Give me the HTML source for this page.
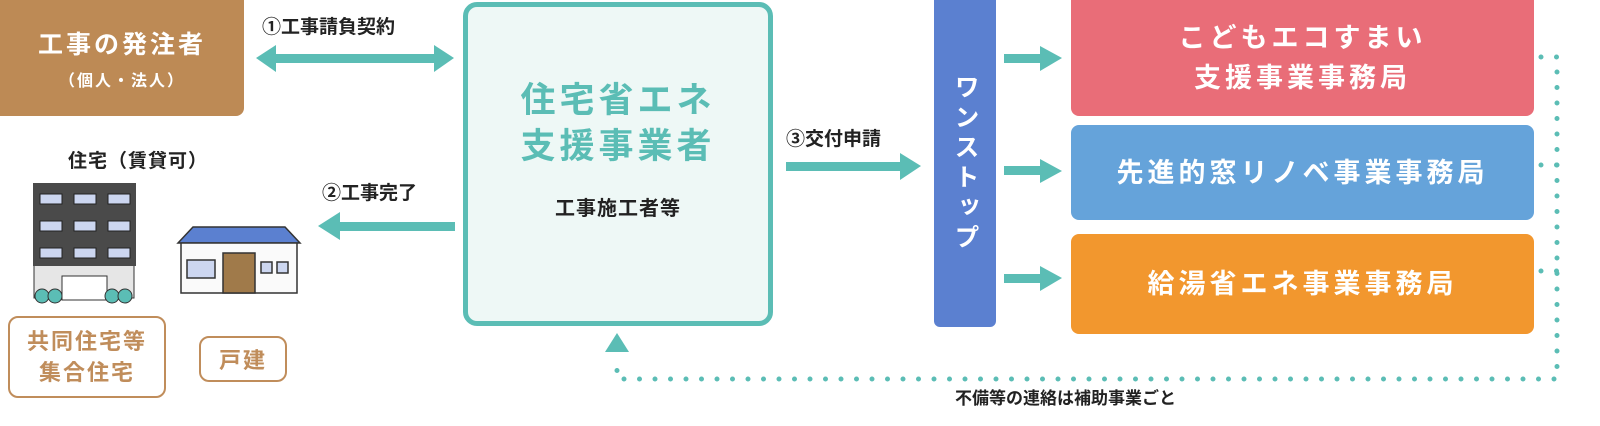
<!DOCTYPE html>
<html><head><meta charset="utf-8"><style>
body{margin:0;width:1600px;height:426px;background:#fff;position:relative;overflow:hidden;font-family:"Liberation Sans","Noto Sans CJK JP",sans-serif;}
.a{position:absolute;box-sizing:border-box;}
.c{display:flex;align-items:center;justify-content:center;text-align:center;flex-direction:column;}
.w{color:#fff;font-size:27px;letter-spacing:4px;line-height:40px;font-weight:bold;}
.k{font-weight:bold;color:#222;}
</style></head><body>
<div class="a c" style="left:0;top:0;width:244px;height:116px;background:#bd8a55;border-radius:0 0 8px 0;color:#fff;font-weight:bold;">
<div style="font-size:25px;letter-spacing:3px;">工事の発注者</div><div style="font-size:16px;letter-spacing:2px;margin-top:6px">（個人・法人）</div></div>
<div class="a k" style="left:262px;top:12px;font-size:19px;">①工事請負契約</div>
<div class="a k" style="left:322px;top:178px;font-size:19px;">②工事完了</div>
<div class="a k" style="left:68px;top:146px;font-size:19px;letter-spacing:1px">住宅（賃貸可）</div>
<div class="a k" style="left:786px;top:124px;font-size:19px;">③交付申請</div>

<div class="a c" style="left:463px;top:2px;width:310px;height:324px;border:5px solid #5bbdb5;border-radius:14px;background:#eef8f6;">
<div style="color:#5bbdb5;font-size:35px;line-height:46px;letter-spacing:4px;margin-top:-30px;font-weight:bold">住宅省エネ<br>支援事業者</div>
<div class="k" style="font-size:20px;margin-top:22px;letter-spacing:1px">工事施工者等</div></div>

<div class="a c" style="left:934px;top:0;width:62px;height:327px;background:#5b80d0;border-radius:0 0 6px 6px;color:#fff;font-size:25px;font-weight:bold;writing-mode:vertical-rl;letter-spacing:5px;">ワンストップ</div>

<div class="a c w" style="left:1071px;top:0;width:463px;height:116px;background:#e96d78;border-radius:0 0 8px 8px;">こどもエコすまい<br>支援事業事務局</div>
<div class="a c w" style="left:1071px;top:125px;width:463px;height:95px;background:#65a3da;border-radius:8px;">先進的窓リノベ事業事務局</div>
<div class="a c w" style="left:1071px;top:234px;width:463px;height:100px;background:#f2972e;border-radius:8px;">給湯省エネ事業事務局</div>

<div class="a c" style="left:8px;top:316px;width:158px;height:82px;border:2px solid #c08d5b;border-radius:10px;color:#c08d5b;font-size:22px;line-height:31px;letter-spacing:2px;font-weight:bold">共同住宅等<br>集合住宅</div>
<div class="a c" style="left:199px;top:336px;width:88px;height:46px;border:2px solid #c08d5b;border-radius:10px;color:#c08d5b;font-size:22px;letter-spacing:2px;font-weight:bold">戸建</div>

<div class="a k" style="left:955px;top:384px;font-size:17px;">不備等の連絡は補助事業ごと</div>

<svg class="a" style="left:0;top:0" width="1600" height="426">
<g fill="#5bbdb5">
<rect x="270" y="54" width="170" height="9"/><polygon points="256,58 276,45 276,72"/><polygon points="454,58 434,45 434,72"/>
<rect x="335" y="222" width="120" height="9"/><polygon points="318,226 340,212 340,240"/>
<rect x="786" y="162" width="118" height="9"/><polygon points="921,166 900,153 900,180"/>
<rect x="1004" y="54" width="40" height="9"/><polygon points="1062,58 1040,46 1040,71"/>
<rect x="1004" y="166" width="40" height="9"/><polygon points="1062,171 1040,159 1040,183"/>
<rect x="1004" y="274" width="40" height="9"/><polygon points="1062,278 1040,266 1040,291"/>
<polygon points="617,333 605,352 629,352"/>
</g>
<g stroke="#5bbdb5" stroke-width="5" stroke-linecap="round" stroke-dasharray="0 15.5" fill="none">
<path d="M1541 57 H1557 V379 H617 V360"/>
<path d="M1541 165 H1557"/><path d="M1541 271 H1557"/>
</g>
<!-- apartment -->
<rect x="34" y="186" width="100" height="112" fill="#e6e6e6" stroke="#333"/>
<rect x="33" y="183" width="103" height="83" fill="#4a4a4a"/>
<g fill="#ccd6f0" stroke="#222">
<rect x="40" y="194" width="22" height="10"/><rect x="74" y="194" width="22" height="10"/><rect x="108" y="194" width="22" height="10"/>
<rect x="40" y="221" width="22" height="10"/><rect x="74" y="221" width="22" height="10"/><rect x="108" y="221" width="22" height="10"/>
<rect x="40" y="248" width="22" height="10"/><rect x="74" y="248" width="22" height="10"/><rect x="108" y="248" width="22" height="10"/>
</g>
<rect x="62" y="276" width="45" height="24" fill="#fff" stroke="#333"/>
<g fill="#5bbdb5" stroke="#333"><circle cx="42" cy="296" r="7"/><circle cx="55" cy="296" r="7"/><circle cx="112" cy="296" r="7"/><circle cx="125" cy="296" r="7"/></g>
<!-- house -->
<g stroke="#333" stroke-width="1.5">
<polygon points="178,243 193,227 285,227 300,243" fill="#5b80d0"/>
<rect x="181" y="243" width="116" height="50" fill="#fafafa"/>
<rect x="187" y="260" width="28" height="18" fill="#ccd6f0"/>
<rect x="223" y="253" width="32" height="40" fill="#a07a4a"/>
<rect x="261" y="262" width="11" height="11" fill="#ccd6f0"/>
<rect x="277" y="262" width="11" height="11" fill="#ccd6f0"/>
</g>
</svg>
</body></html>
